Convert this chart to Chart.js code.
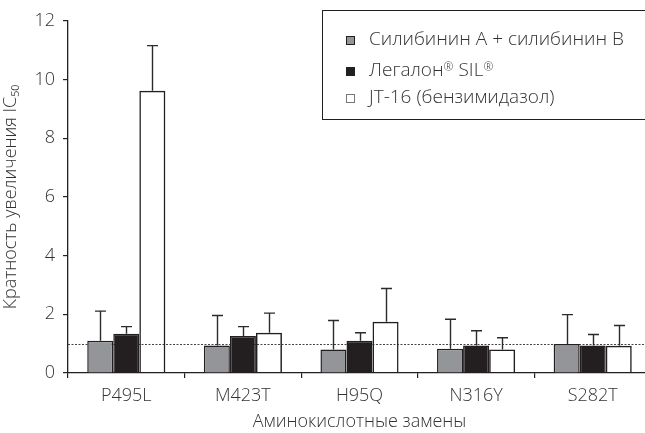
<!DOCTYPE html>
<html>
<head>
<meta charset="utf-8">
<script src="https://cdn.jsdelivr.net/npm/chart.js@4/dist/chart.umd.min.js"></script>
<style>
    html, body { margin: 0; padding: 0; overflow: hidden; background: #fff; }
    #wrap { position: absolute; left: 0; top: 0; width: 651px; height: 433px; }
    #legend {
        position: absolute; left: 322px; top: 10px; width: 340px; height: 110px;
        border: 1.5px solid #231f20; box-sizing: border-box;
        font-family: "Open Sans", sans-serif; font-weight: 300; font-size: 19px; line-height: 20px; color: #333;
    }
    #legend div { position: absolute; left: 23px; white-space: nowrap; }
    #legend span.box {
        display: inline-block; width: 7px; height: 7px; border: 1px solid #231f20;
        margin-right: 14px; vertical-align: 0px;
    }
    #legend span.reg { font-size: 12px; vertical-align: 5px; }
</style>
</head>
<body>
<div id="wrap">
    <canvas id="grafico"></canvas>
    <div id="legend"></div>
</div>
<script>
/*******************************************************************************/
// Datos

const categorias = ["P495L", "M423T", "H95Q", "N316Y", "S282T"];
const nombresSeries = ["Силибинин А + силибинин В", "Легалон® SIL®", "JT-16 (бензимидазол)"];

const silibinina = [1.10, 0.94, 0.80, 0.83, 0.99];
const legalon = [1.34, 1.26, 1.10, 0.94, 0.94];
const jt16 = [9.62, 1.37, 1.75, 0.80, 0.93];

// desviacion (solo hacia arriba)
const errSilibinina = [1.01, 1.02, 0.99, 1.00, 1.00];
const errLegalon = [0.24, 0.32, 0.27, 0.50, 0.37];
const errJt16 = [1.54, 0.67, 1.13, 0.40, 0.69];

const ticksY = [0, 2, 4, 6, 8, 10, 12];
const lineaReferencia = 1;

const colores = ["#939598", "#231f20", "rgba(255,255,255,0)"];
const fuente = "'Open Sans', sans-serif";

/*******************************************************************************/
// Leyenda (html)

function crearLeyenda() {
    const leyenda = document.getElementById("legend");
    const filas = [17, 46, 75];
    nombresSeries.forEach((nombre, i) => {
        const fila = document.createElement("div");
        fila.style.top = filas[i] + "px";
        const caja = document.createElement("span");
        caja.className = "box";
        caja.style.background = i === 2 ? "#fff" : colores[i];
        if (i === 2) caja.style.borderColor = "#777";
        fila.appendChild(caja);
        // el simbolo ® va pequeño y arriba
        nombre.split(/(®)/).forEach((parte) => {
            if (parte === "®") {
                const reg = document.createElement("span");
                reg.className = "reg";
                reg.textContent = parte;
                fila.appendChild(reg);
            } else if (parte) {
                fila.appendChild(document.createTextNode(parte));
            }
        });
        leyenda.appendChild(fila);
    });
}

/*******************************************************************************/
// Plugins

const lineaPunteada = {
    id: "lineaPunteada",
    beforeDatasetsDraw(chart) {
        const { ctx, chartArea, scales } = chart;
        const y = Math.round(scales.y.getPixelForValue(lineaReferencia)) + 0.5;
        ctx.save();
        ctx.strokeStyle = "#444";
        ctx.lineWidth = 1;
        ctx.setLineDash([2, 1.5]);
        ctx.beginPath();
        ctx.moveTo(chartArea.left, y);
        ctx.lineTo(chartArea.right, y);
        ctx.stroke();
        ctx.restore();
    }
};

const barrasError = {
    id: "barrasError",
    afterDatasetsDraw(chart) {
        const { ctx, scales } = chart;
        const errores = [errSilibinina, errLegalon, errJt16];
        ctx.save();
        ctx.strokeStyle = "#2b2b2b";
        ctx.lineWidth = 1.4;
        chart.data.datasets.forEach((ds, i) => {
            const meta = chart.getDatasetMeta(i);
            meta.data.forEach((barra, j) => {
                const valor = ds.data[j];
                const yBase = scales.y.getPixelForValue(valor);
                const yTop = scales.y.getPixelForValue(valor + errores[i][j]);
                const x = Math.round(barra.x) + 0.5;
                ctx.beginPath();
                ctx.moveTo(x, yBase);
                ctx.lineTo(x, yTop);
                ctx.moveTo(x - 5.5, yTop);
                ctx.lineTo(x + 5.5, yTop);
                ctx.stroke();
            });
        });
        ctx.restore();
    }
};

/*******************************************************************************/
// Grafico

function crearGrafico() {
    const ctx = document.getElementById("grafico").getContext("2d");
    const series = [silibinina, legalon, jt16];
    new Chart(ctx, {
        type: "bar",
        data: {
            labels: categorias,
            datasets: series.map((valores, i) => ({
                label: nombresSeries[i],
                data: valores,
                backgroundColor: colores[i],
                borderColor: "#231f20",
                borderWidth: 1.5,
                categoryPercentage: 0.67,
                barPercentage: 1
            }))
        },
        options: {
            responsive: true,
            maintainAspectRatio: false,
            animation: false,
            layout: { padding: { top: 21, left: 0, right: 0, bottom: 0 } },
            plugins: {
                legend: { display: false },
                tooltip: { enabled: false }
            },
            scales: {
                x: {
                    afterFit: (scale) => { scale.height = 60; },
                    border: { color: "#231f20", width: 1.3 },
                    grid: { display: true, drawOnChartArea: false, offset: true, tickLength: 5, color: "#231f20", lineWidth: 1.2 },
                    ticks: { color: "#333", padding: 7, font: { family: fuente, size: 18, weight: 300 } },
                    title: {
                        display: true,
                        text: "Аминокислотные замены",
                        color: "#333",
                        padding: { top: 0, bottom: 0 },
                        font: { family: fuente, size: 18, weight: 300 }
                    }
                },
                y: {
                    min: 0,
                    max: 12,
                    afterFit: (scale) => { scale.width = 68; },
                    afterBuildTicks: (scale) => { scale.ticks = ticksY.map((v) => ({ value: v })); },
                    border: { color: "#231f20", width: 1.3 },
                    grid: { display: true, drawOnChartArea: false, tickLength: 5, color: "#231f20", lineWidth: 1.2 },
                    ticks: { color: "#333", padding: 8, font: { family: fuente, size: 18, weight: 300 } },
                    title: {
                        display: true,
                        text: "Кратность увеличения IC₅₀",
                        color: "#333",
                        padding: { top: 0, bottom: 0 },
                        font: { family: fuente, size: 18, weight: 300 }
                    }
                }
            }
        },
        plugins: [lineaPunteada, barrasError]
    });
}

crearLeyenda();
crearGrafico();
</script>
</body>
</html>
